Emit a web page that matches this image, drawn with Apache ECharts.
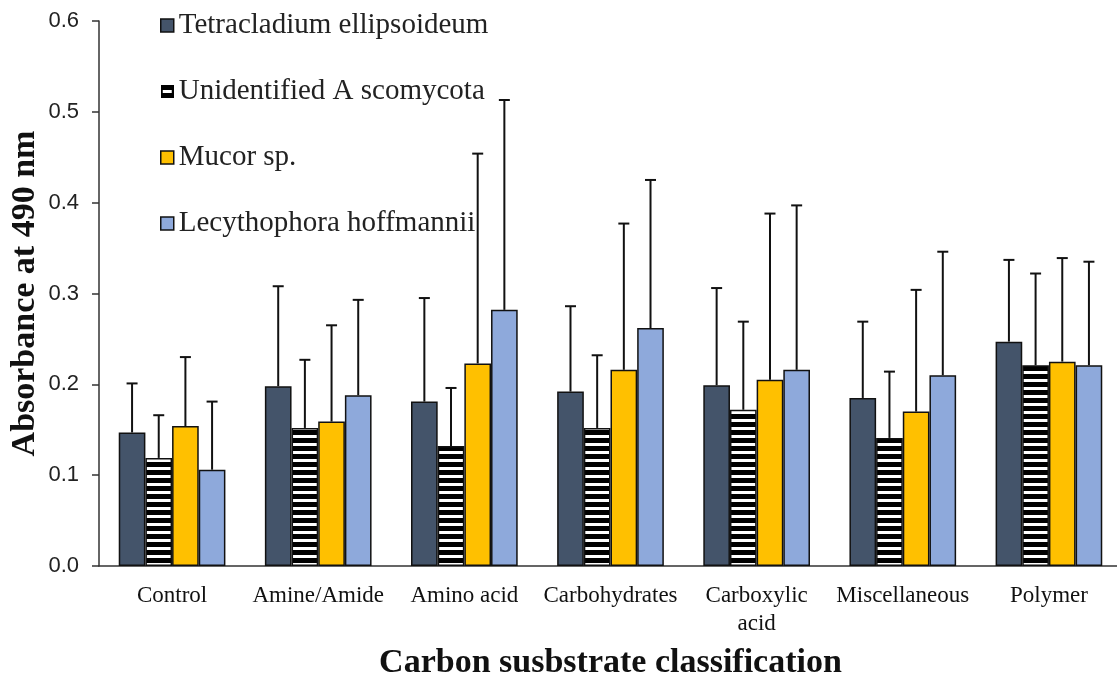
<!DOCTYPE html>
<html>
<head>
<meta charset="utf-8">
<script src="https://cdn.jsdelivr.net/npm/echarts@6/dist/echarts.min.js"></script>
<style>
  html, body { margin: 0; padding: 0; background: #fff; overflow: hidden; }
  #chart { width: 1117px; height: 677px; }
</style>
</head>
<body>
<div id="chart"></div>
<script>
// Carbon substrate groups
const categories = ['Control', 'Amine/Amide', 'Amino acid', 'Carbohydrates', 'Carboxylic acid', 'Miscellaneous', 'Polymer'];

// Series names
const seriesNames = ['Tetracladium ellipsoideum', 'Unidentified A scomycota', 'Mucor sp.', 'Lecythophora hoffmannii'];

// Mean absorbance at 490 nm
const tetraMean = [0.147, 0.198, 0.181, 0.192, 0.199, 0.185, 0.247];
const ascoMean  = [0.119, 0.152, 0.132, 0.152, 0.172, 0.141, 0.221];
const mucorMean = [0.154, 0.159, 0.223, 0.216, 0.205, 0.170, 0.225];
const lecyMean  = [0.106, 0.188, 0.282, 0.262, 0.216, 0.210, 0.221];

// Standard deviations (upper error bars)
const tetraSd = [0.054, 0.110, 0.114, 0.094, 0.107, 0.084, 0.090];
const ascoSd  = [0.047, 0.075, 0.064, 0.080, 0.097, 0.073, 0.101];
const mucorSd = [0.076, 0.106, 0.231, 0.161, 0.183, 0.134, 0.114];
const lecySd  = [0.075, 0.105, 0.231, 0.163, 0.181, 0.136, 0.114];

// Y axis ticks
const yMin = 0, yMax = 0.6, yStep = 0.1;

const means = [tetraMean, ascoMean, mucorMean, lecyMean];
const sds = [tetraSd, ascoSd, mucorSd, lecySd];

// Horizontal black/white stripes for the Ascomycota bars
function stripeCanvas() {
  const c = document.createElement('canvas');
  c.width = 8; c.height = 8;
  const g = c.getContext('2d');
  g.fillStyle = '#000'; g.fillRect(0, 0, 8, 8);
  g.fillStyle = '#fff'; g.fillRect(0, 3, 8, 3);
  return c;
}
// Legend swatch: black box with a white bar across the middle
function stripeIcon() {
  const c = document.createElement('canvas');
  c.width = 13; c.height = 13;
  const g = c.getContext('2d');
  g.fillStyle = '#000'; g.fillRect(0, 0, 13, 13);
  g.fillStyle = '#fff'; g.fillRect(2, 5, 9, 3);
  return c.toDataURL();
}

const fills = ['#44546A', { image: stripeCanvas(), repeat: 'repeat' }, '#FFC000', '#8EA9DB'];
const serif = '"Liberation Serif", "Times New Roman", serif';
const barCatGap = 0.27;

const barSeries = seriesNames.map((name, i) => ({
  name: name,
  type: 'bar',
  data: means[i],
  barGap: '0%',
  barCategoryGap: (barCatGap * 100) + '%',
  itemStyle: { color: fills[i], borderColor: '#111', borderWidth: 1.5 },
  z: 2
}));

const errSeries = seriesNames.map((name, i) => ({
  type: 'custom',
  name: name + ' SD',
  z: 3,
  silent: true,
  data: means[i].map((m, k) => [k, m, m + sds[i][k]]),
  renderItem: function (params, api) {
    const k = api.value(0);
    const base = api.coord([k, api.value(1)]);
    const top = api.coord([k, api.value(2)]);
    const band = api.size([1, 0])[0];
    const barW = band * (1 - barCatGap) / 4;
    const x = base[0] + (i - 1.5) * barW;
    const cap = 5.5;
    const style = { stroke: '#111', lineWidth: 2 };
    return {
      type: 'group',
      children: [
        { type: 'line', shape: { x1: x, y1: base[1], x2: x, y2: top[1] }, style: style },
        { type: 'line', shape: { x1: x - cap, y1: top[1], x2: x + cap, y2: top[1] }, style: style }
      ]
    };
  }
}));

const chart = echarts.init(document.getElementById('chart'), null, { renderer: 'canvas' });
chart.setOption({
  animation: false,
  backgroundColor: '#fff',
  grid: { left: 99, right: -5, top: 21, bottom: 111, containLabel: false, outerBoundsMode: 'none' },
  legend: {
    orient: 'vertical',
    left: 160,
    top: 11,
    padding: 0,
    itemGap: 37,
    itemWidth: 13,
    itemHeight: 13,
    selectedMode: false,
    textStyle: { fontFamily: serif, fontSize: 29, lineHeight: 28, color: '#222' },
    data: seriesNames.map((n, i) => i === 1
      ? { name: n, icon: 'image://' + stripeIcon() }
      : { name: n, icon: 'rect', itemStyle: { borderColor: '#111', borderWidth: 1.5 } })
  },
  xAxis: {
    type: 'category',
    data: categories,
    name: 'Carbon susbstrate classification',
    nameLocation: 'middle',
    nameGap: 80,
    nameMoveOverlap: false,
    nameTextStyle: { fontFamily: serif, fontSize: 34, fontWeight: 'bold', color: '#111' },
    axisLine: { lineStyle: { color: '#333', width: 1.5 } },
    axisTick: { show: false },
    axisLabel: {
      interval: 0,
      margin: 16,
      fontFamily: serif,
      fontSize: 23,
      lineHeight: 28,
      color: '#111',
      formatter: v => v === 'Carboxylic acid' ? 'Carboxylic\nacid' : v
    }
  },
  yAxis: {
    type: 'value',
    min: yMin,
    max: yMax,
    interval: yStep,
    name: 'Absorbance at 490 nm',
    nameLocation: 'middle',
    nameRotate: 90,
    nameGap: 57,
    nameMoveOverlap: false,
    nameTextStyle: { fontFamily: serif, fontSize: 34, fontWeight: 'bold', color: '#111' },
    axisLine: { show: true, lineStyle: { color: '#333', width: 1.5 } },
    axisTick: { show: true, length: 7, lineStyle: { color: '#333', width: 1.5 } },
    splitLine: { show: false },
    axisLabel: {
      margin: 20,
      fontFamily: '"Liberation Sans", Arial, sans-serif',
      fontSize: 22,
      color: '#222',
      formatter: v => v.toFixed(1)
    }
  },
  series: barSeries.concat(errSeries)
});
</script>
</body>
</html>
